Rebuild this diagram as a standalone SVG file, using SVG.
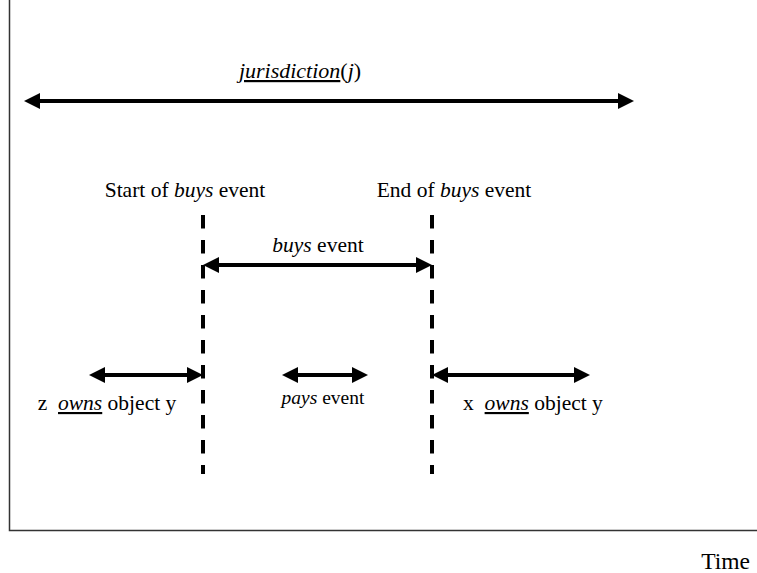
<svg xmlns="http://www.w3.org/2000/svg" width="757" height="573" viewBox="0 0 757 573">
<style>
  text { font-family: "Liberation Serif", "Times New Roman", serif; font-size: 21.5px; fill: #000; }
  .i { font-style: italic; }
  .u { text-decoration: underline; }
  .small { font-size: 19.5px; }
  .jur { font-size: 22px; }
  .big { font-size: 23.5px; }
  .arrow { stroke: #000; stroke-width: 4; fill: none; marker-start: url(#ah); marker-end: url(#ah); }
  .dash { stroke: #000; stroke-width: 4; stroke-dasharray: 13.5 11.5; fill: none; }
  .axis { stroke: #333; stroke-width: 1.5; fill: none; }
</style>
<defs>
  <marker id="ah" viewBox="0 0 16 16" refX="1" refY="8" markerWidth="16" markerHeight="16" markerUnits="userSpaceOnUse" orient="auto-start-reverse">
    <path d="M0,0 L16,8 L0,16 z" fill="#000"/>
  </marker>
</defs>
<rect width="757" height="573" fill="#fff"/>
<g id="axes">
  <path class="axis" d="M9.5,0 V530.5 H757"/>
</g>
<g id="connectors">
  <line class="arrow" x1="39" y1="101" x2="619" y2="101"/>
  <line class="dash" x1="203" y1="215" x2="203" y2="474"/>
  <line class="dash" x1="432" y1="215" x2="432" y2="474"/>
  <line class="arrow" x1="218" y1="265" x2="417" y2="265"/>
  <line class="arrow" x1="104" y1="375" x2="188" y2="375"/>
  <line class="arrow" x1="297" y1="375" x2="353" y2="375"/>
  <line class="arrow" x1="447" y1="375" x2="575" y2="375"/>
</g>
<g id="jurisdiction">
  <text class="jur" x="300" y="78" text-anchor="middle"><tspan class="i u">jurisdiction</tspan>(<tspan class="i">j</tspan>)</text>
</g>
<g id="start">
  <text x="185" y="197" text-anchor="middle">Start of <tspan class="i">buys</tspan> event</text>
</g>
<g id="end">
  <text x="454" y="197" text-anchor="middle">End of <tspan class="i">buys</tspan> event</text>
</g>
<g id="buys">
  <text x="318" y="252" text-anchor="middle"><tspan class="i">buys</tspan> event</text>
</g>
<g id="z-owns">
  <text x="107" y="410" text-anchor="middle" xml:space="preserve">z  <tspan class="i u">owns</tspan> object y</text>
</g>
<g id="pays">
  <text class="small" x="323" y="404" text-anchor="middle"><tspan class="i">pays</tspan> event</text>
</g>
<g id="x-owns">
  <text x="533" y="410" text-anchor="middle" xml:space="preserve">x  <tspan class="i u">owns</tspan> object y</text>
</g>
<g id="time">
  <text class="big" x="750" y="569" text-anchor="end">Time</text>
</g>
</svg>
